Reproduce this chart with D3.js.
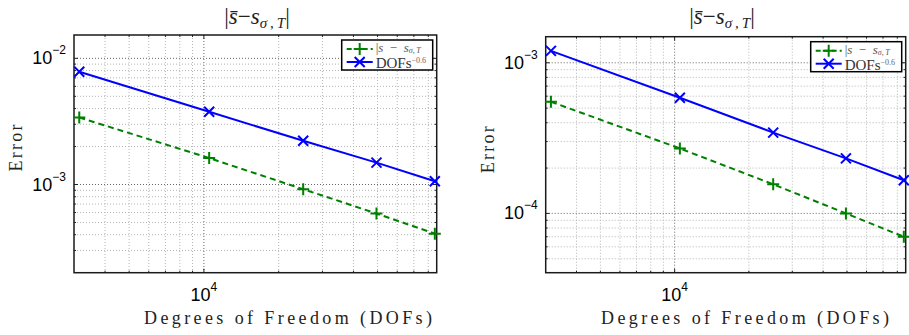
<!DOCTYPE html>
<html>
<head>
<meta charset="utf-8">
<script src="https://cdn.jsdelivr.net/npm/d3@7"></script>
<style>
  body { margin: 0; background: #fff; }
  svg { display: block; }
</style>
</head>
<body>
<svg id="chart" width="909" height="335"></svg>
<script>
// degrees of freedom (same meshes in both panels)
var dofs = [3150, 10500, 25100, 49500, 85000];

// left panel
var leftError = [3.40e-3, 1.62e-3, 9.18e-4, 5.89e-4, 4.08e-4];
var leftRate  = [7.83e-3, 3.77e-3, 2.22e-3, 1.49e-3, 1.06e-3];

// right panel
var rightError = [5.51e-4, 2.70e-4, 1.56e-4, 1.00e-4, 7.0e-5];
var rightRate  = [1.20e-3, 5.86e-4, 3.44e-4, 2.32e-4, 1.66e-4];

var xTickExps = [4];
var leftYTickExps = [-2, -3];
var rightYTickExps = [-3, -4];

var SERIF = "'Liberation Serif', 'DejaVu Serif', serif";
var SANS = "'Liberation Sans', Arial, sans-serif";

var svg = d3.select("#chart");

var panels = [
  { left: 74, top: 35, width: 362.7, height: 237.7,
    xDomain: [3000, 86500], yDomain: [2.0e-4, 1.531e-2],
    err: leftError, rate: leftRate, yTicks: leftYTickExps,
    titleX: 257, xlabelX: 288 },
  { left: 545.7, top: 36.7, width: 360, height: 236,
    xDomain: [3000, 86500], yDomain: [4.04e-5, 1.49e-3],
    err: rightError, rate: rightRate, yTicks: rightYTickExps,
    titleX: 722, xlabelX: 745 }
];

panels.forEach(drawPanel);

function logGridValues(domain) {
  var out = [];
  var lo = Math.floor(Math.log10(domain[0])), hi = Math.ceil(Math.log10(domain[1]));
  for (var e = lo; e <= hi; e++) {
    for (var m = 1; m < 10; m++) {
      var v = m * Math.pow(10, e);
      if (v >= domain[0] * 1.0001 && v <= domain[1] * 0.9999) out.push({v: v, major: m === 1});
    }
  }
  return out;
}

function drawPanel(p) {
  var g = svg.append("g").attr("transform", "translate(" + p.left + "," + p.top + ")");
  var x = d3.scaleLog().domain(p.xDomain).range([0, p.width]);
  var y = d3.scaleLog().domain(p.yDomain).range([p.height, 0]);

  var xg = logGridValues(p.xDomain), yg = logGridValues(p.yDomain);

  // grid
  g.selectAll(".vgrid").data(xg).enter().append("line")
      .attr("x1", d => x(d.v)).attr("x2", d => x(d.v))
      .attr("y1", 0).attr("y2", p.height)
      .attr("stroke", d => d.major ? "#666" : "#b5b5b5")
      .attr("stroke-width", 1)
      .attr("stroke-dasharray", "1,2");
  g.selectAll(".hgrid").data(yg).enter().append("line")
      .attr("y1", d => y(d.v)).attr("y2", d => y(d.v))
      .attr("x1", 0).attr("x2", p.width)
      .attr("stroke", d => d.major ? "#666" : "#b5b5b5")
      .attr("stroke-width", 1)
      .attr("stroke-dasharray", "1,2");

  // ticks on all four sides (inside)
  xg.forEach(function(d) {
    var len = d.major ? 4 : 2;
    g.append("line").attr("x1", x(d.v)).attr("x2", x(d.v)).attr("y1", p.height).attr("y2", p.height - len).attr("stroke", "#222");
    g.append("line").attr("x1", x(d.v)).attr("x2", x(d.v)).attr("y1", 0).attr("y2", len).attr("stroke", "#222");
  });
  yg.forEach(function(d) {
    var len = d.major ? 4 : 2;
    g.append("line").attr("y1", y(d.v)).attr("y2", y(d.v)).attr("x1", 0).attr("x2", len).attr("stroke", "#222");
    g.append("line").attr("y1", y(d.v)).attr("y2", y(d.v)).attr("x1", p.width).attr("x2", p.width - len).attr("stroke", "#222");
  });

  // box
  g.append("rect").attr("width", p.width).attr("height", p.height)
      .attr("fill", "none").attr("stroke", "#1a1a1a").attr("stroke-width", 1.5);

  // y tick labels
  p.yTicks.forEach(function(e) {
    var t = g.append("text").attr("font-family", SANS)
        .attr("x", -8).attr("y", y(Math.pow(10, e)) + 6)
        .attr("text-anchor", "end").attr("font-size", 18);
    t.append("tspan").text("10");
    t.append("tspan").attr("dy", -10).attr("font-size", 12).text("\u2212" + Math.abs(e));
  });
  // x tick labels
  xTickExps.forEach(function(e) {
    var t = g.append("text").attr("font-family", SANS)
        .attr("x", x(Math.pow(10, e))).attr("y", p.height + 28)
        .attr("text-anchor", "middle").attr("font-size", 18);
    t.append("tspan").text("10");
    t.append("tspan").attr("dy", -10).attr("font-size", 12).text(e);
  });

  // lines
  var line = d3.line().x((d, i) => x(dofs[i])).y(d => y(d));
  g.append("path").datum(p.rate).attr("d", line)
      .attr("fill", "none").attr("stroke", "#0000ff").attr("stroke-width", 2);
  g.append("path").datum(p.err).attr("d", line)
      .attr("fill", "none").attr("stroke", "#008000").attr("stroke-width", 2)
      .attr("stroke-dasharray", "6,4");

  // markers
  g.selectAll(".xmark").data(p.rate).enter().append("path")
      .attr("transform", (d, i) => "translate(" + x(dofs[i]) + "," + y(d) + ")")
      .attr("d", "M-5,-5L5,5M-5,5L5,-5")
      .attr("stroke", "#0000ff").attr("stroke-width", 2);
  g.selectAll(".pmark").data(p.err).enter().append("path")
      .attr("transform", (d, i) => "translate(" + x(dofs[i]) + "," + y(d) + ")")
      .attr("d", "M-6,0L6,0M0,-6L0,6")
      .attr("stroke", "#008000").attr("stroke-width", 2);

  // legend
  var lw = 91, lh = 30;
  var lg = g.append("g").attr("transform", "translate(" + (p.width - 4 - lw) + ",5)");
  lg.append("rect").attr("width", lw).attr("height", lh)
      .attr("fill", "#fff").attr("stroke", "#000").attr("stroke-width", 1.5);
  lg.append("line").attr("x1", 5).attr("x2", 31).attr("y1", 9).attr("y2", 9)
      .attr("stroke", "#008000").attr("stroke-width", 2).attr("stroke-dasharray", "5,3");
  lg.append("path").attr("transform", "translate(18,9)").attr("d", "M-6,0L6,0M0,-6L0,6")
      .attr("stroke", "#008000").attr("stroke-width", 2);
  lg.append("line").attr("x1", 5).attr("x2", 31).attr("y1", 22).attr("y2", 22)
      .attr("stroke", "#0000ff").attr("stroke-width", 2);
  lg.append("path").attr("transform", "translate(18,22)").attr("d", "M-5,-5L5,5M-5,5L5,-5")
      .attr("stroke", "#0000ff").attr("stroke-width", 2);

  var l1 = lg.append("text").attr("font-family", SERIF).attr("x", 34).attr("y", 12)
      .attr("font-size", 13).attr("fill", "#555");
  l1.append("tspan").text("|");
  l1.append("tspan").attr("font-style", "italic").text("s");
  l1.append("tspan").text("\u2002\u2212\u2002");
  l1.append("tspan").attr("font-style", "italic").text("s");
  l1.append("tspan").attr("dy", 1).attr("font-size", 8).attr("font-style", "italic").text("\u03c3,\u2009T");
  var l2 = lg.append("text").attr("font-family", SERIF).attr("x", 34).attr("y", 28)
      .attr("font-size", 15).attr("fill", "#333");
  l2.append("tspan").text("DOFs");
  l2.append("tspan").attr("dy", -5).attr("font-size", 8).attr("fill", "#666").text("\u22120.6");

  // title
  var tt = svg.append("text").attr("font-family", SERIF)
      .attr("x", p.titleX).attr("y", 24)
      .attr("text-anchor", "middle").attr("font-size", 23).attr("fill", "#222");
  tt.append("tspan").text("|");
  tt.append("tspan").attr("font-style", "italic").text("s\u0304");
  tt.append("tspan").text("\u2212");
  tt.append("tspan").attr("font-style", "italic").text("s");
  tt.append("tspan").attr("dy", 4).attr("font-size", 15).attr("font-style", "italic").text("\u03c3\u2009,\u2009T");
  tt.append("tspan").attr("dy", -4).text("|");

  // axis labels
  svg.append("text").attr("font-family", SERIF)
      .attr("x", p.xlabelX).attr("y", 324).attr("text-anchor", "middle")
      .attr("textLength", 288).attr("lengthAdjust", "spacing")
      .attr("font-size", 18).attr("fill", "#222")
      .text("Degrees of Freedom (DOFs)");
  svg.append("text").attr("font-family", SERIF)
      .attr("transform", "translate(" + (p.left - 52) + "," + (p.top + 113) + ") rotate(-90)")
      .attr("text-anchor", "middle")
      .attr("textLength", 47).attr("lengthAdjust", "spacing")
      .attr("font-size", 18).attr("fill", "#222")
      .text("Error");
}
</script>
</body>
</html>
